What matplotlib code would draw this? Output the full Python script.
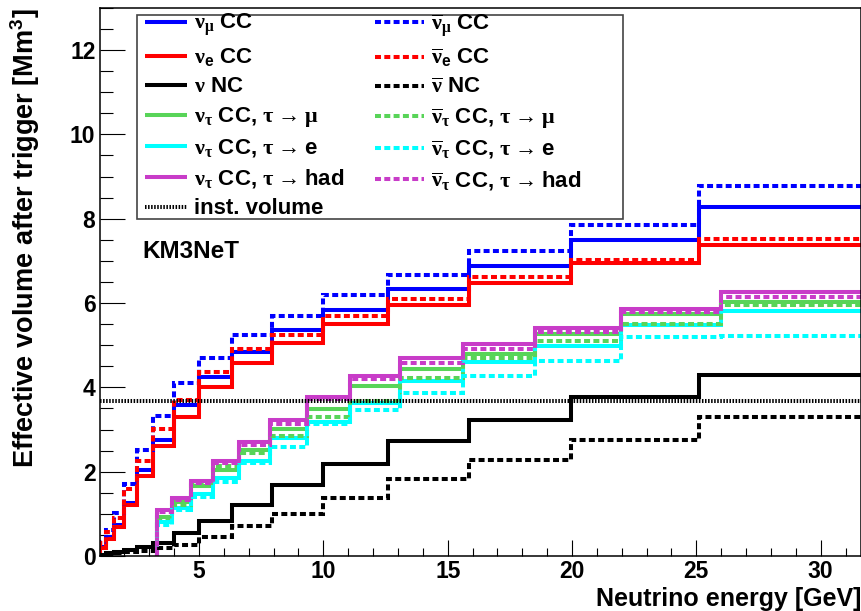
import numpy as np
import matplotlib.pyplot as plt
from matplotlib.ticker import MultipleLocator
from matplotlib.patches import Rectangle

plt.rcParams['font.family'] = ['Liberation Sans', 'DejaVu Sans']
plt.rcParams['font.weight'] = 'bold'
plt.rcParams['mathtext.fontset'] = 'custom'
plt.rcParams['mathtext.rm'] = 'Liberation Serif'
plt.rcParams['mathtext.sf'] = 'Liberation Sans:bold'
plt.rcParams['mathtext.bf'] = 'Liberation Sans:bold'
plt.rcParams['lines.scale_dashes'] = False

# bin edges [GeV]
edges = [1.0, 1.26, 1.58, 2.0, 2.51, 3.16, 3.98, 5.01, 6.31, 7.94, 10.0,
         12.59, 15.85, 19.95, 25.12, 31.62]
tau_edges = [3.3, 3.93, 4.67, 5.55, 6.59, 7.85, 9.33, 11.08, 13.1, 15.6,
             18.5, 21.95, 26.0, 31.62]

# effective volumes [Mm3]
numu_cc = [0.22, 0.46, 0.73, 1.25, 2.04, 2.76, 3.58, 4.25, 4.85, 5.35, 5.83, 6.34, 6.89, 7.49, 8.27]
nue_cc = [0.2, 0.4, 0.68, 1.2, 1.9, 2.6, 3.3, 4.02, 4.58, 5.05, 5.51, 5.95, 6.47, 6.96, 7.38]
nu_nc = [0.03, 0.06, 0.1, 0.15, 0.21, 0.3, 0.54, 0.83, 1.22, 1.68, 2.18, 2.73, 3.22, 3.78, 4.29]
numubar_cc = [0.34, 0.62, 1.03, 1.7, 2.51, 3.33, 4.1, 4.69, 5.24, 5.7, 6.18, 6.66, 7.24, 7.85, 8.78]
nuebar_cc = [0.3, 0.57, 0.89, 1.6, 2.25, 3.01, 3.7, 4.37, 4.91, 5.24, 5.7, 6.1, 6.62, 7.03, 7.53]
nubar_nc = [0.02, 0.04, 0.06, 0.09, 0.13, 0.18, 0.27, 0.46, 0.71, 0.99, 1.38, 1.82, 2.27, 2.75, 3.3]

tau_mu = [0.93, 1.27, 1.66, 2.03, 2.51, 3.02, 3.49, 4.04, 4.44, 4.78, 5.26, 5.74, 6.03]
tau_e = [0.8, 1.15, 1.46, 1.84, 2.26, 2.8, 3.18, 3.63, 4.14, 4.61, 4.98, 5.48, 5.82]
tau_had = [1.09, 1.38, 1.78, 2.26, 2.7, 3.22, 3.78, 4.27, 4.69, 5.02, 5.42, 5.87, 6.27]
taubar_mu = [0.9, 1.22, 1.68, 2.13, 2.45, 2.84, 3.3, 3.68, 4.22, 4.7, 5.11, 5.5, 5.95]
taubar_e = [0.74, 1.09, 1.4, 1.76, 2.2, 2.59, 3.12, 3.46, 3.86, 4.26, 4.63, 5.2, 5.22]
taubar_had = [1.04, 1.33, 1.73, 2.2, 2.64, 3.14, 3.72, 4.19, 4.57, 4.9, 5.32, 5.78, 6.14]

inst_volume = 3.68

green = '#58D458'
magenta = '#C83CC8'
cyan = '#00FFFF'
lw = 2.9
dash = (0, (4.3, 2.4))


def hist(ax, e, v, **kw):
    # ROOT-like outline: rise from zero at the first edge
    x = np.r_[e[0], e]
    y = np.r_[0, v, v[-1]]
    line, = ax.plot(x, y, drawstyle='steps-post', lw=lw,
                    solid_joinstyle='miter', dash_joinstyle='miter',
                    dash_capstyle='butt', solid_capstyle='butt', **kw)
    return line


arrow = r'\rightarrow'
fig = plt.figure(figsize=(8.62, 6.11), dpi=100)
ax = fig.add_axes([0.1155, 0.09, 0.8833, 0.897])

h1 = hist(ax, edges, numu_cc, color='blue', label=r'$\mathrm{\nu_{\mu}}$ CC')
h2 = hist(ax, edges, nue_cc, color='red', label=r'$\mathrm{\nu_{\mathsf{e}}}$ CC')
h3 = hist(ax, edges, nu_nc, color='black', label=r'$\mathrm{\nu}$ NC')
h4 = hist(ax, tau_edges, tau_mu, color=green, label=r'$\mathrm{\nu_{\tau}}$ CC, $\mathrm{\tau %s \mu}$' % arrow)
h5 = hist(ax, tau_edges, tau_e, color=cyan, label=r'$\mathrm{\nu_{\tau}}$ CC, $\mathrm{\tau %s \mathsf{e}}$' % arrow)
h6 = hist(ax, tau_edges, tau_had, color=magenta, label=r'$\mathrm{\nu_{\tau}}$ CC, $\mathrm{\tau %s \mathsf{had}}$' % arrow)

b1 = hist(ax, edges, numubar_cc, color='blue', ls=dash, label=r'$\mathrm{\overline{\nu}_{\mu}}$ CC')
b2 = hist(ax, edges, nuebar_cc, color='red', ls=dash, label=r'$\mathrm{\overline{\nu}_{\mathsf{e}}}$ CC')
b3 = hist(ax, edges, nubar_nc, color='black', ls=dash, label=r'$\mathrm{\overline{\nu}}$ NC')
b4 = hist(ax, tau_edges, taubar_mu, color=green, ls=dash, label=r'$\mathrm{\overline{\nu}_{\tau}}$ CC, $\mathrm{\tau %s \mu}$' % arrow)
b5 = hist(ax, tau_edges, taubar_e, color=cyan, ls=dash, label=r'$\mathrm{\overline{\nu}_{\tau}}$ CC, $\mathrm{\tau %s \mathsf{e}}$' % arrow)
b6 = hist(ax, tau_edges, taubar_had, color=magenta, ls=dash, label=r'$\mathrm{\overline{\nu}_{\tau}}$ CC, $\mathrm{\tau %s \mathsf{had}}$' % arrow)

hi = ax.axhline(inst_volume, color='black', lw=lw, ls=(0, (1.1, 1.1)), label='inst. volume')

ax.set_xlim(1, 31.62)
ax.set_ylim(0, 13)
ax.xaxis.set_major_locator(MultipleLocator(5))
ax.xaxis.set_minor_locator(MultipleLocator(1))
ax.yaxis.set_major_locator(MultipleLocator(2))
ax.yaxis.set_minor_locator(MultipleLocator(0.5))
ax.tick_params(which='both', direction='in', top=False, right=False, width=0.8, labelsize=16.5)
ax.tick_params(axis='y', which='major', length=18, pad=3)
ax.tick_params(axis='y', which='minor', length=9.4)
ax.tick_params(axis='x', which='major', length=11.5, pad=3)
ax.tick_params(axis='x', which='minor', length=5.8)
for s in ax.spines.values():
    s.set_linewidth(1.1)

ax.set_xlabel('Neutrino energy [GeV]', fontsize=18, fontweight='bold', loc='right')
ax.xaxis.set_label_coords(1.0, -0.056)
ax.set_ylabel(r'Effective volume after trigger [Mm$^{\mathbf{3}}$]', fontsize=19.5,
              fontweight='bold', loc='top')
ax.yaxis.set_label_coords(-0.0757, 1.0)

ax.text(0.0557, 0.5547, 'KM3NeT', transform=ax.transAxes, fontsize=17.5,
        fontweight='bold', ha='left', va='center')

# legend box (ROOT TLegend with two equal columns)
box = Rectangle((0.0491, 0.615), 0.6383, 0.372, transform=ax.transAxes,
                facecolor='white', edgecolor='#444444', lw=1.2, zorder=4.5)
ax.add_patch(box)

legkw = dict(loc='upper left', borderpad=0, borderaxespad=0, frameon=False,
             prop=dict(family='Liberation Sans', weight='bold', size=16),
             handletextpad=0.33, labelspacing=0.36)
leg1 = ax.legend(handles=[h1, h2, h3, h4, h5, h6, hi], bbox_to_anchor=(0.0596, 0.9927),
                 handlelength=1.9, **legkw)
ax.add_artist(leg1)
leg2 = ax.legend(handles=[b1, b2, b3, b4, b5, b6], bbox_to_anchor=(0.3617, 0.9927),
                 handlelength=2.2, **legkw)

fig.savefig('out.png', dpi=100)
